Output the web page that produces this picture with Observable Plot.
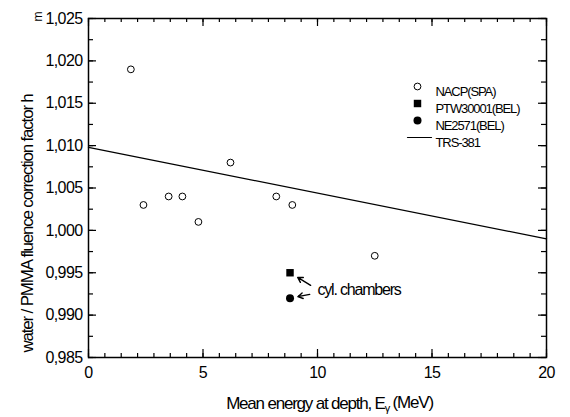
<!DOCTYPE html>
<html><head><meta charset="utf-8">
<script src="https://cdn.jsdelivr.net/npm/d3@7"></script>
<script src="https://cdn.jsdelivr.net/npm/@observablehq/plot@0.6"></script>
<style>
body{margin:0;background:#fff;}
#chart svg{font-family:"Liberation Sans",Arial,sans-serif;background:#fff;}
#chart svg text{letter-spacing:-0.6px;}
#chart svg .tight text{letter-spacing:-1.2px;}
#chart svg .legendtxt text{letter-spacing:-1.1px;}
</style></head><body><div id="chart"></div>
<script>
// ---- data ----
const nacpE = [1.85, 2.4, 3.5, 4.1, 4.8, 6.2, 8.2, 8.9, 12.5];
const nacpH = [1.019, 1.003, 1.004, 1.004, 1.001, 1.008, 1.004, 1.003, 0.997];
const ptwE = [8.8];
const ptwH = [0.995];
const neE = [8.8];
const neH = [0.992];
const trsE = [0, 20];
const trsH = [1.0098, 0.9990];
const xTicks = [0, 5, 10, 15, 20];
const xTickLabels = ["0", "5", "10", "15", "20"];
const yTicks = [0.985, 0.990, 0.995, 1.000, 1.005, 1.010, 1.015, 1.020, 1.025];
const yTickLabels = ["0,985", "0,990", "0,995", "1,000", "1,005", "1,010", "1,015", "1,020", "1,025"];
const legendLabels = ["NACP(SPA)", "PTW30001(BEL)", "NE2571(BEL)", "TRS-381"];
const annotationText = ["cyl. chambers"];
const annotationE = [10.0];
const annotationH = [0.99293];
const arrowStartE = [9.7, 9.66];
const arrowStartH = [0.99352, 0.99245];
const xTitle = "Mean energy at depth, E";
const xTitleSub = "γ";
const xTitleEnd = " (MeV)";
const yTitle = "water / PMMA fluence correction factor h";
const yTitleSub = "m";

// ---- tables ----
const nacp = nacpE.map((e, i) => ({e, h: nacpH[i]}));
const ptw = ptwE.map((e, i) => ({e, h: ptwH[i]}));
const ne = neE.map((e, i) => ({e, h: neH[i]}));
const trs = trsE.map((e, i) => ({e, h: trsH[i]}));
const arrowsSq = [{x1: arrowStartE[0], y1: arrowStartH[0], x2: ptwE[0], y2: ptwH[0]}];
const arrowsCi = [{x1: arrowStartE[1], y1: arrowStartH[1], x2: neE[0], y2: neH[0]}];
const xMinor = d3.range(29).map(k => k * 5 / 7);
const yMinor = d3.range(17).map(k => 0.985 + k * 0.0025);

const W = 570, H = 417, mL = 88, mR = 24, mT = 18, mB = 60;
const fw = W - mL - mR, fh = H - mT - mB;

const lineShape = {draw(ctx, l) { ctx.moveTo(0, 0); ctx.lineTo(0, -l); }};
const rowsDy = [68, 85, 102, 119];
const legendText = legendLabels.map((lab, i) =>
  Plot.text([lab], {frameAnchor: "top-left", dx: 347, dy: rowsDy[i], text: d => d,
    textAnchor: "start", fontSize: 13, fill: "#000", className: "legendtxt"}));

const chart = Plot.plot({
  width: W, height: H,
  marginLeft: mL, marginRight: mR, marginTop: mT, marginBottom: mB,
  x: {domain: [0, 20], axis: null},
  y: {domain: [0.985, 1.025], axis: null},
  style: {background: "#fff", color: "#000"},
  marks: [
    // ticks (inward), all four sides
    Plot.tickX(xMinor, {x: d => d, insetTop: fh - 4, stroke: "#000", strokeWidth: 1.2}),
    Plot.tickX(xMinor, {x: d => d, insetBottom: fh - 4, stroke: "#000", strokeWidth: 1.2}),
    Plot.tickX(xTicks, {x: d => d, insetTop: fh - 8, stroke: "#000", strokeWidth: 1.2}),
    Plot.tickX(xTicks, {x: d => d, insetBottom: fh - 8, stroke: "#000", strokeWidth: 1.2}),
    Plot.tickY(yMinor, {y: d => d, insetRight: fw - 5, stroke: "#000", strokeWidth: 1.2}),
    Plot.tickY(yMinor, {y: d => d, insetLeft: fw - 5, stroke: "#000", strokeWidth: 1.2}),
    Plot.tickY(yTicks, {y: d => d, insetRight: fw - 8, stroke: "#000", strokeWidth: 1.2}),
    Plot.tickY(yTicks, {y: d => d, insetLeft: fw - 8, stroke: "#000", strokeWidth: 1.2}),
    Plot.frame({stroke: "#000", strokeWidth: 1.5}),
    Plot.axisX({ticks: xTicks, tickSize: 0, tickPadding: 9, fontSize: 16,
      tickFormat: d => xTickLabels[xTicks.indexOf(d)], label: null}),
    Plot.axisY({ticks: yTicks, tickSize: 0, tickPadding: 6, fontSize: 16,
      tickFormat: d => yTickLabels[yTicks.indexOf(d)], label: null}),
    // TRS-381 line
    Plot.line(trs, {x: "e", y: "h", stroke: "#000", strokeWidth: 1.3}),
    // data
    Plot.dot(nacp, {x: "e", y: "h", r: 3.4, stroke: "#000", strokeWidth: 1, fill: "none"}),
    Plot.dot(ptw, {x: "e", y: "h", r: 4.2, symbol: "square", fill: "#000", stroke: "none"}),
    Plot.dot(ne, {x: "e", y: "h", r: 4, fill: "#000", stroke: "none"}),
    // annotation
    Plot.arrow(arrowsSq, {x1: "x1", y1: "y1", x2: "x2", y2: "y2", insetEnd: 9, headLength: 6, stroke: "#000", strokeWidth: 1.4}),
    Plot.arrow(arrowsCi, {x1: "x1", y1: "y1", x2: "x2", y2: "y2", insetEnd: 8, headLength: 6, stroke: "#000", strokeWidth: 1.4}),
    Plot.text(annotationText, {x: () => annotationE[0], y: () => annotationH[0], text: d => d,
      textAnchor: "start", fontSize: 16, fill: "#000", className: "tight"}),
    // legend
    Plot.dot([0], {frameAnchor: "top-left", dx: 329, dy: rowsDy[0], r: 3.4, stroke: "#000", strokeWidth: 1, fill: "none"}),
    Plot.dot([0], {frameAnchor: "top-left", dx: 329, dy: rowsDy[1], r: 4.2, symbol: "square", fill: "#000", stroke: "none"}),
    Plot.dot([0], {frameAnchor: "top-left", dx: 329, dy: rowsDy[2], r: 4, fill: "#000", stroke: "none"}),
    Plot.vector([0], {frameAnchor: "top-left", dx: 319, dy: rowsDy[3], length: 24, rotate: 90, anchor: "start",
      shape: lineShape, stroke: "#000", strokeWidth: 1.2}),
    ...legendText,
    // axis titles
    Plot.text([xTitle], {frameAnchor: "bottom", dx: 12, dy: 51, text: d => d, fontSize: 17,
      fill: "#000", className: "xtitle tight"}),
    Plot.text([yTitle], {frameAnchor: "bottom-left", dx: -56, dy: -5, rotate: -90, textAnchor: "start",
      text: d => d, fontSize: 17, fill: "#000", className: "ytitle tight"}),
    Plot.text([yTitleSub], {frameAnchor: "top-left", dx: -55, dy: 3, rotate: -90, text: d => d,
      fontSize: 12, fill: "#000", className: "ysub"})
  ]
});

d3.select(chart).selectAll(".xtitle text").each(function() {
  const t = d3.select(this);
  t.text(null);
  t.append("tspan").text(xTitle);
  t.append("tspan").attr("font-size", 11).attr("dy", "0.35em").text(xTitleSub);
  t.append("tspan").attr("dy", "-0.25em").text(xTitleEnd);
});
document.getElementById("chart").appendChild(chart);
</script></body></html>
